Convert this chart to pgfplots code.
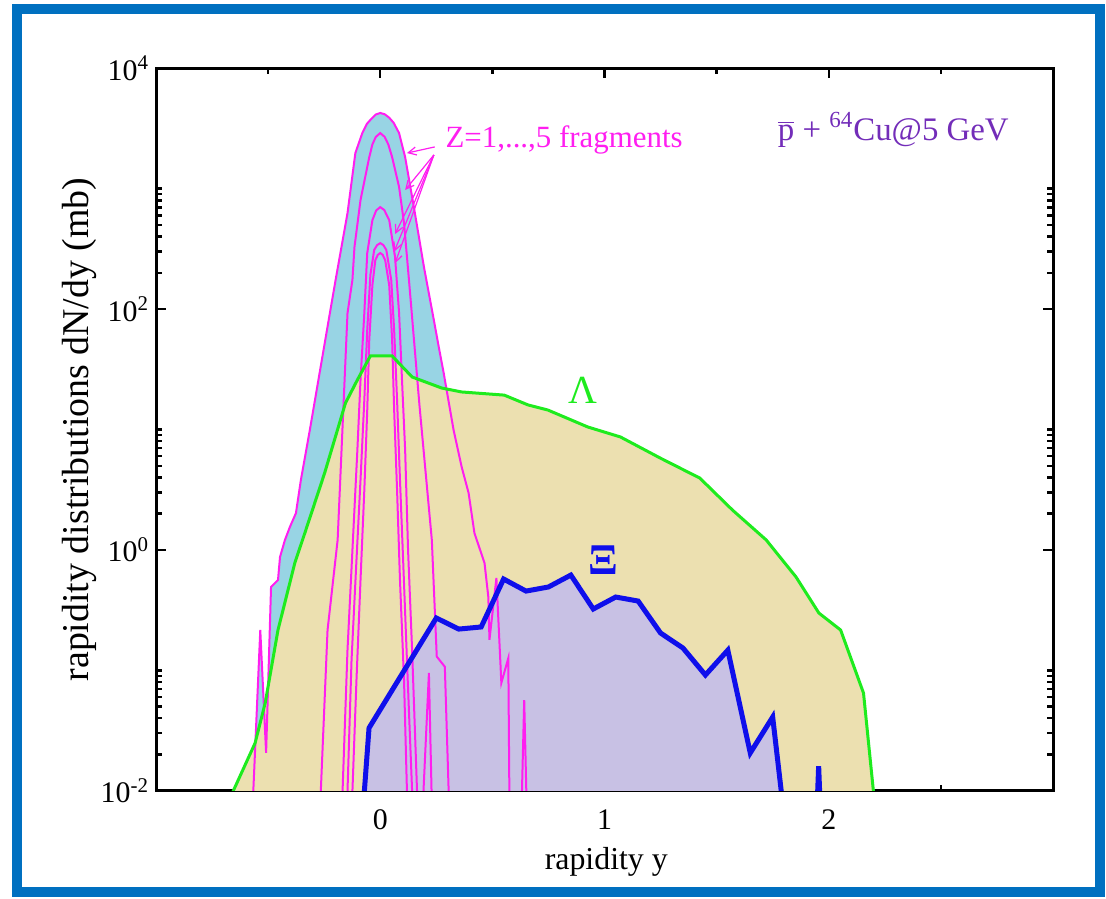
\documentclass[border=0pt]{standalone}
\usepackage{pgfplots}
\pgfplotsset{compat=1.18}
\usepackage{pgfplotstable}
\usetikzlibrary{arrows.meta}
\usepackage{fontspec}
\setmainfont{Liberation Serif}

\definecolor{fragfill}{RGB}{152,212,228}
\definecolor{lamfill}{RGB}{236,224,176}
\definecolor{xifill}{RGB}{200,193,228}
\definecolor{fragline}{RGB}{255,30,240}
\definecolor{lamline}{RGB}{30,235,30}
\definecolor{xiline}{RGB}{15,15,235}
\definecolor{titlecol}{RGB}{115,45,185}
\definecolor{framecol}{RGB}{0,112,192}

% rapidity distributions: y  dN/dy (mb)
\pgfplotstableread{
y dndy
-0.573 0.005
-0.566 0.01
-0.535 0.216
-0.509 0.0206
-0.487 0.492
-0.456 0.562
-0.447 0.873
-0.425 1.21
-0.403 1.55
-0.376 2.02
-0.354 3.80
-0.314 9.91
-0.275 26.3
-0.230 81
-0.199 175
-0.146 627
-0.111 1977
-0.080 2897
-0.060 3450
-0.040 3800
-0.020 4130
0.000 4256
0.020 4150
0.040 3890
0.060 3520
0.084 2897
0.111 1828
0.150 703
0.195 223
0.239 81.1
0.261 48.4
0.283 29.4
0.296 21.3
0.327 9.91
0.363 4.89
0.394 2.97
0.420 1.38
0.465 0.778
0.482 0.406
0.487 0.179
0.518 0.585
0.540 0.0785
0.571 0.126
0.577 0.005
0.628 0.005
0.642 0.0566
0.655 0.005
}\fragA

\pgfplotstableread{
y dndy
-0.275 0.005
-0.265 0.01
-0.235 0.216
-0.190 1.21
-0.159 25.8
-0.146 92.7
-0.124 175
-0.115 327
-0.088 804
-0.049 1828
-0.035 2330
-0.020 2690
0.000 2897
0.020 2690
0.036 2330
0.053 1828
0.084 1033
0.106 519
0.128 175
0.175 15.8
0.230 1.21
0.252 0.130
0.288 0.107
0.305 0.01
0.310 0.005
}\fragB

\pgfplotstableread{
y dndy
-0.175 0.004
-0.168 0.01
-0.146 0.148
-0.124 1.0
-0.102 6.76
-0.088 25.8
-0.071 92.7
-0.058 292
-0.035 548
-0.018 660
0.000 703
0.018 665
0.040 548
0.066 271
0.084 92.7
0.097 25.8
0.111 6.76
0.124 1.0
0.142 0.148
0.164 0.01
0.180 0.003
0.217 0.095
0.235 0.003
}\fragC

\pgfplotstableread{
y dndy
-0.152 0.004
-0.146 0.01
-0.128 0.122
-0.106 0.826
-0.088 3.81
-0.071 17.6
-0.058 67.0
-0.044 192
-0.027 310
-0.014 340
0.000 353
0.014 340
0.027 310
0.049 175
0.062 67.0
0.075 17.6
0.088 3.81
0.102 0.826
0.119 0.122
0.142 0.01
0.148 0.004
}\fragD

\pgfplotstableread{
y dndy
-0.130 0.004
-0.124 0.01
-0.106 0.0832
-0.088 0.562
-0.071 3.14
-0.058 14.5
-0.049 55.3
-0.035 158
-0.022 255
-0.011 282
0.000 292
0.011 282
0.022 255
0.040 158
0.053 55.3
0.062 14.5
0.075 3.14
0.088 0.562
0.106 0.0832
0.119 0.01
0.125 0.004
}\fragE

\pgfplotstableread{
y dndy
-0.680 0.0079
-0.655 0.01
-0.558 0.0249
-0.513 0.0535
-0.456 0.216
-0.381 0.778
-0.332 1.46
-0.248 4.35
-0.155 16.6
-0.102 25.8
-0.044 40.8
0.053 40.8
0.142 27.3
0.274 22.1
0.363 20.5
0.553 19.3
0.659 16.0
0.748 14.5
0.925 10.5
1.071 8.67
1.248 5.80
1.425 3.95
1.571 2.14
1.721 1.21
1.854 0.596
1.956 0.299
2.053 0.216
2.155 0.0648
2.199 0.01
2.210 0.006
}\lambdatab

\pgfplotstableread{
y dndy
-0.150 0.0001
-0.050 0.0332
0.250 0.272
0.350 0.220
0.450 0.229
0.550 0.573
0.650 0.455
0.750 0.492
0.850 0.618
0.950 0.323
1.050 0.406
1.150 0.376
1.250 0.204
1.350 0.153
1.450 0.0914
1.550 0.147
1.650 0.0206
1.750 0.0409
1.850 0.001
1.930 0.001
1.955 0.016
1.980 0.001
}\xitab

\begin{document}
\begin{tikzpicture}
\path (0,0) rectangle (553bp,449.5bp);
\draw[framecol, line width=5bp] (8.5bp,3.5bp) rectangle (550bp,445bp);
\begin{axis}[
  at={(78bp,54.15bp)}, anchor=south west,
  width=448.5bp, height=361.2bp, scale only axis,
  xmin=-1, xmax=3, ymin=1e-2, ymax=1e4, ymode=log,
  axis line style={line width=1.5bp},
  tick style={black, line width=1.2bp},
  major tick length=5bp, minor tick length=3bp,
  tick align=inside,
  xtick={0,1,2}, xticklabels={0,1,2},
  minor xtick={-0.5,0.5,1.5,2.5},
  ytick={1e-2,1,1e2,1e4},
  yticklabels={10\textsuperscript{-2},10\textsuperscript{0},10\textsuperscript{2},10\textsuperscript{4}},
  minor ytick={0.02,0.03,0.04,0.05,0.06,0.07,0.08,0.09,0.1,2,3,4,5,6,7,8,9,10,200,300,400,500,600,700,800,900,1000},
  ticklabel style={font=\fontsize{15}{15}\selectfont},
  xticklabel style={anchor=base, yshift=-19.5bp},
  xlabel={rapidity y},
  ylabel={rapidity distributions dN/dy (mb)},
  xlabel style={font=\fontsize{16}{16}\selectfont, at={(axis description cs:0.502,-0.098)}, anchor=center},
  ylabel style={font=\fontsize{19}{19}\selectfont, at={(axis description cs:-0.085,0.5)}, anchor=center},
  clip=true,
]
% filled areas
\addplot[draw=none, fill=fragfill] table[x=y,y=dndy] {\fragA} -- cycle;
\addplot[draw=none, fill=lamfill] table[x=y,y=dndy] {\lambdatab} -- cycle;
\addplot[draw=none, fill=xifill] table[x=y,y=dndy] {\xitab} -- cycle;
% fragment curves Z=1..5
\addplot[fragline, line width=1bp] table[x=y,y=dndy] {\fragA};
\addplot[fragline, line width=1bp] table[x=y,y=dndy] {\fragB};
\addplot[fragline, line width=1bp] table[x=y,y=dndy] {\fragC};
\addplot[fragline, line width=1bp] table[x=y,y=dndy] {\fragD};
\addplot[fragline, line width=1bp] table[x=y,y=dndy] {\fragE};
% Lambda and Xi
\addplot[lamline, line width=1.5bp] table[x=y,y=dndy] {\lambdatab};
\addplot[xiline, line width=2.5bp, line join=miter] table[x=y,y=dndy] {\xitab};

% annotations
\node[anchor=west, text=fragline, font=\fontsize{15.5}{15.5}\selectfont] at (axis cs:0.26,2541) {Z=1,...,5 fragments};
\draw[fragline, line width=0.6bp, -{Straight Barb[length=4bp,width=4bp]}] (axis cs:0.243,2223) -- (axis cs:0.119,1977);
\draw[fragline, line width=0.6bp, -{Straight Barb[length=4bp,width=4bp]}] (axis cs:0.239,1905) -- (axis cs:0.111,975);
\draw[fragline, line width=0.6bp, -{Straight Barb[length=4bp,width=4bp]}] (axis cs:0.239,1905) -- (axis cs:0.066,420);
\draw[fragline, line width=0.6bp, -{Straight Barb[length=4bp,width=4bp]}] (axis cs:0.239,1905) -- (axis cs:0.062,300);
\draw[fragline, line width=0.6bp, -{Straight Barb[length=4bp,width=4bp]}] (axis cs:0.239,1905) -- (axis cs:0.066,240);
\node[text=lamline, font=\fontsize{20}{20}\selectfont] at (axis cs:0.903,21.3) {Λ};
\node[text=xiline, font=\bfseries\fontsize{22}{22}\selectfont] at (axis cs:0.996,0.824) {Ξ};
\node[text=titlecol, font=\fontsize{16.5}{16.5}\selectfont] at (axis cs:2.288,3076) {$\overline{\mbox{p}}$ + \textsuperscript{64}Cu@5 GeV};
\end{axis}
\end{tikzpicture}
\end{document}
